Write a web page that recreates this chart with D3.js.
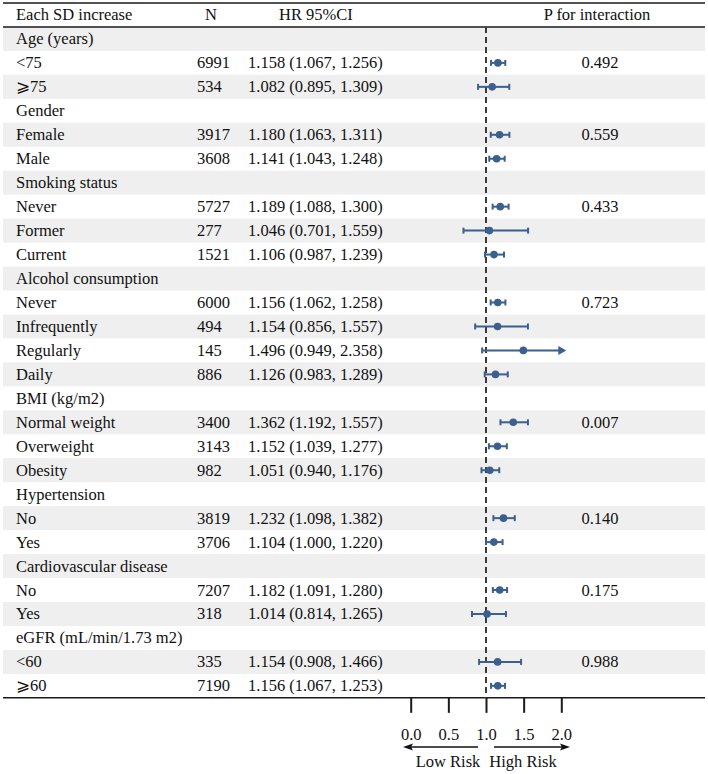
<!DOCTYPE html>
<html>
<head>
<meta charset="utf-8">
<script src="https://cdn.jsdelivr.net/npm/d3@7"></script>
<style>
  body { margin: 0; background: #fff; }
  text { font-family: "Liberation Serif", "DejaVu Serif", serif; font-size: 16.5px; fill: #111; }
</style>
</head>
<body>
<div id="forest"></div>
<script>
// Subgroup rows (top to bottom)
const labels = ["Age (years)", "<75", "\u2A7E75", "Gender", "Female", "Male",
  "Smoking status", "Never", "Former", "Current",
  "Alcohol consumption", "Never", "Infrequently", "Regularly", "Daily",
  "BMI (kg/m2)", "Normal weight", "Overweight", "Obesity",
  "Hypertension", "No", "Yes",
  "Cardiovascular disease", "No", "Yes",
  "eGFR (mL/min/1.73 m2)", "<60", "\u2A7E60"];
const nValues = [null, 6991, 534, null, 3917, 3608, null, 5727, 277, 1521,
  null, 6000, 494, 145, 886, null, 3400, 3143, 982, null, 3819, 3706,
  null, 7207, 318, null, 335, 7190];
const hr = [null, 1.158, 1.082, null, 1.180, 1.141, null, 1.189, 1.046, 1.106,
  null, 1.156, 1.154, 1.496, 1.126, null, 1.362, 1.152, 1.051, null, 1.232, 1.104,
  null, 1.182, 1.014, null, 1.154, 1.156];
const lower = [null, 1.067, 0.895, null, 1.063, 1.043, null, 1.088, 0.701, 0.987,
  null, 1.062, 0.856, 0.949, 0.983, null, 1.192, 1.039, 0.940, null, 1.098, 1.000,
  null, 1.091, 0.814, null, 0.908, 1.067];
const upper = [null, 1.256, 1.309, null, 1.311, 1.248, null, 1.300, 1.559, 1.239,
  null, 1.258, 1.557, 2.358, 1.289, null, 1.557, 1.277, 1.176, null, 1.382, 1.220,
  null, 1.280, 1.265, null, 1.466, 1.253];
const pValues = [null, "0.492", null, null, "0.559", null, null, "0.433", null, null,
  null, "0.723", null, null, null, null, "0.007", null, null, null, "0.140", null,
  null, "0.175", null, null, "0.988", null];
const headers = ["Each SD increase", "N", "HR 95%CI", "P for interaction"];
const ticks = [0, 0.5, 1, 1.5, 2];

const width = 708, height = 774;
const tblLeft = 3, tblRight = 705, tblTop = 3;
const rowH = 23.96;
const xMax = 2;          // CIs beyond this get an arrow
const blue = "#3b5f8e";

const rows = labels.map((d, i) => ({
  label: d, n: nValues[i], hr: hr[i], lo: lower[i], hi: upper[i], p: pValues[i], i: i
}));

const svg = d3.select("#forest").append("svg")
  .attr("width", width)
  .attr("height", height);

// Row positions: header row is band 0, data rows follow
const y = d3.scaleBand()
  .domain(d3.range(rows.length + 1))
  .range([tblTop, tblTop + rowH * (rows.length + 1)]);
const tableBottom = y.range()[1];

// Forest x scale
const x = d3.scaleLinear().domain([0, 2]).range([410.7, 561.3]);

// Zebra stripes on every other data row
svg.append("g").selectAll("rect")
  .data(rows.filter(d => d.i % 2 === 0))
  .join("rect")
  .attr("x", tblLeft)
  .attr("width", tblRight - tblLeft)
  .attr("y", d => y(d.i + 1))
  .attr("height", y.bandwidth())
  .attr("fill", "#efefef");

// Header
const headerY = y(0) + y.bandwidth() / 2 + 5.5;
svg.append("text").attr("x", 16).attr("y", headerY).text(headers[0]);
svg.append("text").attr("x", 211).attr("y", headerY).style("text-anchor", "middle").text(headers[1]);
svg.append("text").attr("x", 279).attr("y", headerY).text(headers[2]);
svg.append("text").attr("x", 597).attr("y", headerY).style("text-anchor", "middle").text(headers[3]);

// Rules
[y(0), y(1), tableBottom].forEach(v => {
  svg.append("line")
    .attr("x1", tblLeft).attr("x2", tblRight)
    .attr("y1", v).attr("y2", v)
    .attr("stroke", "#1a1a1a")
    .attr("stroke-width", 1.5);
});

// Table text
const body = svg.append("g");
const rowY = d => y(d.i + 1) + y.bandwidth() / 2 + 5.5;
body.selectAll(".lab").data(rows).join("text")
  .attr("class", "lab")
  .attr("x", 16).attr("y", rowY)
  .text(d => d.label);
body.selectAll(".n").data(rows.filter(d => d.n !== null)).join("text")
  .attr("class", "n")
  .attr("x", 197).attr("y", rowY)
  .text(d => d.n);
body.selectAll(".hr").data(rows.filter(d => d.hr !== null)).join("text")
  .attr("class", "hr")
  .attr("x", 248).attr("y", rowY)
  .text(d => `${d.hr.toFixed(3)} (${d.lo.toFixed(3)}, ${d.hi.toFixed(3)})`);
body.selectAll(".p").data(rows.filter(d => d.p !== null)).join("text")
  .attr("class", "p")
  .attr("x", 600).attr("y", rowY)
  .style("text-anchor", "middle")
  .text(d => d.p);

// Reference line at HR = 1
svg.append("line")
  .attr("x1", x(1)).attr("x2", x(1))
  .attr("y1", y(1)).attr("y2", tableBottom)
  .attr("stroke", "#3a3a3a")
  .attr("stroke-width", 2)
  .attr("stroke-dasharray", "6,4");

// CIs and points
const ci = svg.append("g").selectAll("g")
  .data(rows.filter(d => d.hr !== null))
  .join("g")
  .attr("transform", d => `translate(0, ${y(d.i + 1) + y.bandwidth() / 2})`);

ci.append("line")
  .attr("x1", d => x(d.lo))
  .attr("x2", d => d.hi > xMax ? x(xMax) - 2 : x(d.hi))
  .attr("stroke", blue).attr("stroke-width", 2);
// left caps
ci.append("line")
  .attr("x1", d => x(d.lo)).attr("x2", d => x(d.lo))
  .attr("y1", -3).attr("y2", 3)
  .attr("stroke", blue).attr("stroke-width", 2);
// right caps, or an arrow when the CI runs off the scale
ci.filter(d => d.hi <= xMax).append("line")
  .attr("x1", d => x(d.hi)).attr("x2", d => x(d.hi))
  .attr("y1", -3).attr("y2", 3)
  .attr("stroke", blue).attr("stroke-width", 2);
ci.filter(d => d.hi > xMax).append("path")
  .attr("d", () => `M${x(xMax) - 3},-4.5 L${x(xMax) + 5},0 L${x(xMax) - 3},4.5 Z`)
  .attr("fill", blue);
ci.append("circle")
  .attr("cx", d => x(d.hr))
  .attr("r", 3.8)
  .attr("fill", blue);

// Axis
const axis = svg.append("g")
  .attr("transform", `translate(0, ${tableBottom})`)
  .call(d3.axisBottom(x).tickValues(ticks).tickFormat(d3.format(".1f")).tickSize(15).tickPadding(15));
axis.select(".domain").remove();
axis.selectAll(".tick line").attr("stroke", "#1a1a1a").attr("stroke-width", 2);
axis.selectAll(".tick text")
  .style("font-family", "'Liberation Serif', serif")
  .style("font-size", "16.5px")
  .attr("fill", "#111");

// Risk arrows
const arrowY = 747;
svg.append("line").attr("x1", 478).attr("x2", 408).attr("y1", arrowY).attr("y2", arrowY)
  .attr("stroke", "#111").attr("stroke-width", 1.6);
svg.append("path").attr("d", `M403,${arrowY} L413,${arrowY - 3.5} L411,${arrowY} L413,${arrowY + 3.5} Z`).attr("fill", "#111");
svg.append("line").attr("x1", 494).attr("x2", 565).attr("y1", arrowY).attr("y2", arrowY)
  .attr("stroke", "#111").attr("stroke-width", 1.6);
svg.append("path").attr("d", `M570,${arrowY} L560,${arrowY - 3.5} L562,${arrowY} L560,${arrowY + 3.5} Z`).attr("fill", "#111");

svg.append("text").attr("x", 448).attr("y", 767).style("text-anchor", "middle").text("Low Risk");
svg.append("text").attr("x", 523).attr("y", 767).style("text-anchor", "middle").text("High Risk");
</script>
</body>
</html>
